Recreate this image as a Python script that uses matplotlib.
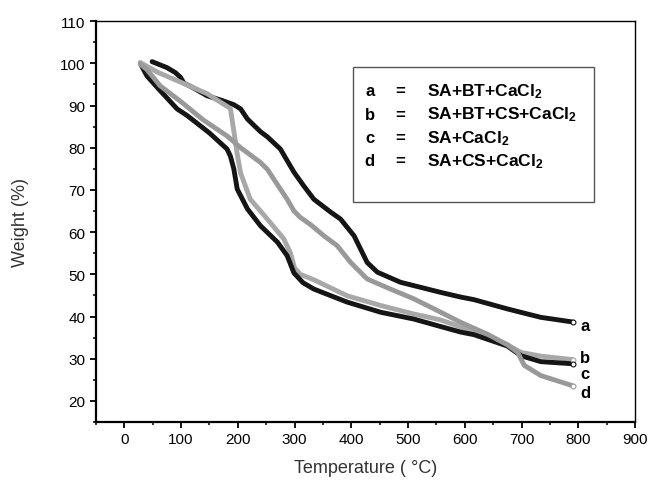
import matplotlib
matplotlib.use("Agg")
import matplotlib.pyplot as plt
from matplotlib.patches import Rectangle
from matplotlib.ticker import MultipleLocator

# -----------------------------------
# DATA
# -----------------------------------
temp_a = [49, 60, 75, 90, 99, 105, 120, 146, 170, 193, 205, 217, 240, 252, 275,
          299, 316, 334, 364, 381, 405, 428, 446, 487, 558, 593, 616, 675, 734, 790]
weight_a = [100.4, 99.8, 99.0, 97.8, 96.7, 95.3, 94.3, 92.3, 91.3, 90.2, 89.2, 86.8,
            83.8, 82.6, 79.7, 74.2, 71.0, 67.8, 64.7, 63.1, 59.1, 52.8, 50.5, 48.1,
            45.7, 44.6, 44.0, 41.8, 39.8, 38.7]

temp_b = [28, 60, 100, 146, 187, 193, 199, 205, 222, 252, 281, 293, 300, 310, 334,
          393, 452, 510, 557, 593, 640, 675, 699, 734, 790]
weight_b = [100.2, 97.8, 95.5, 92.8, 89.3, 84.0, 78.5, 74.0, 67.8, 63.1, 58.4, 55.0,
            51.5, 50.0, 48.7, 44.9, 42.6, 40.6, 39.2, 37.5, 35.5, 33.3, 31.5, 30.6, 29.8]

temp_c = [30, 40, 60, 93, 111, 150, 181, 187, 193, 199, 217, 240, 270, 287, 299, 315,
          334, 393, 452, 510, 558, 593, 616, 675, 699, 734, 790]
weight_c = [99.5, 97.0, 94.0, 89.2, 87.6, 83.5, 79.7, 78.0, 75.0, 70.2, 65.5, 61.5,
            57.6, 54.4, 50.3, 48.0, 46.5, 43.4, 41.0, 39.4, 37.6, 36.3, 35.7, 33.0,
            30.7, 29.3, 28.8]

temp_d = [28, 40, 63, 99, 140, 181, 205, 240, 252, 275, 287, 299, 310, 328, 352, 375,
          399, 428, 469, 510, 546, 593, 640, 675, 693, 705, 734, 790]
weight_d = [99.8, 98.5, 94.7, 91.0, 86.5, 82.8, 80.0, 76.5, 74.9, 70.2, 67.8, 65.0,
            63.5, 61.8, 59.1, 56.8, 52.8, 48.9, 46.5, 44.2, 41.8, 38.6, 35.8, 33.3,
            31.5, 28.4, 26.0, 23.6]

curve_labels = ["a", "b", "c", "d"]
legend_names = ["SA+BT+CaCl$_2$", "SA+BT+CS+CaCl$_2$", "SA+CaCl$_2$", "SA+CS+CaCl$_2$"]

# -----------------------------------
# STYLE
# -----------------------------------
plt.rcParams["font.family"] = ["Liberation Sans", "DejaVu Sans"]
plt.rcParams["mathtext.fontset"] = "custom"
plt.rcParams["mathtext.rm"] = "Liberation Sans:bold"
plt.rcParams["mathtext.bf"] = "Liberation Sans:bold"
plt.rcParams["mathtext.default"] = "bf"

fig = plt.figure(figsize=(6.48, 4.81), dpi=100)
ax = fig.add_axes([0.148, 0.1206, 0.832, 0.8334])

series = [
    (temp_a, weight_a, "#151515"),
    (temp_b, weight_b, "#a8a8a8"),
    (temp_c, weight_c, "#151515"),
    (temp_d, weight_d, "#999999"),
]

for t, w, col in series:
    ax.plot(t, w, color=col, lw=3.5, solid_capstyle="round", solid_joinstyle="round")
for t, w, col in series:
    ax.plot(t[-1], w[-1], "o", mfc="white", mec=col, ms=3.5, mew=0.8)

# end labels a..d
label_y = [37.8, 30.2, 26.6, 22.1]
for lab, y in zip(curve_labels, label_y):
    ax.text(812, y, lab, fontsize=12, fontweight="bold", ha="center", va="center")

# -----------------------------------
# LEGEND BOX
# -----------------------------------
ax.add_patch(Rectangle((0.477, 0.550), 0.446, 0.335, transform=ax.transAxes,
                       fill=False, edgecolor="#555555", lw=1.0))
row_y = [0.826, 0.768, 0.710, 0.652]
for lab, name, y in zip(curve_labels, legend_names, row_y):
    ax.text(0.508, y, lab, transform=ax.transAxes, fontsize=12, fontweight="bold",
            ha="center", va="center")
    ax.text(0.564, y, "=", transform=ax.transAxes, fontsize=12, fontweight="bold",
            ha="center", va="center")
    ax.text(0.615, y, name, transform=ax.transAxes, fontsize=12.5, fontweight="bold",
            ha="left", va="center")

# -----------------------------------
# AXES
# -----------------------------------
ax.set_xlim(-50, 900)
ax.set_ylim(15, 110)
ax.xaxis.set_minor_locator(MultipleLocator(50))
ax.yaxis.set_minor_locator(MultipleLocator(5))
ax.set_yticks(range(20, 111, 10))
ax.set_xticks(range(0, 901, 100))

ax.tick_params(which="major", direction="out", length=4, width=1.3, labelsize=11,
               top=False, right=False)
ax.tick_params(which="minor", direction="out", length=2.5, width=1.1,
               top=False, right=False)

ax.spines["left"].set_linewidth(1.6)
ax.spines["bottom"].set_linewidth(1.6)
ax.spines["top"].set_linewidth(1.0)
ax.spines["right"].set_linewidth(1.0)

ax.set_xlabel("Temperature ( \u00b0C)", fontsize=13, color="#333333", labelpad=9)
ax.set_ylabel("Weight (%)", fontsize=13, color="#333333", labelpad=22)

plt.savefig("out.png", dpi=100)
